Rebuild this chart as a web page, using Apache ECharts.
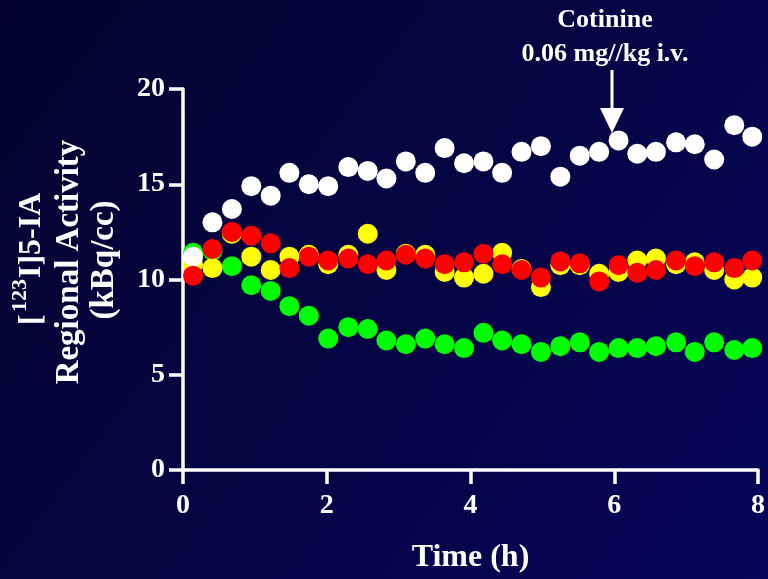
<!DOCTYPE html>
<html>
<head>
<meta charset="utf-8">
<script src="https://cdn.jsdelivr.net/npm/echarts@6/dist/echarts.min.js"></script>
<style>
html,body{margin:0;padding:0;width:768px;height:579px;overflow:hidden;}
#chart{width:768px;height:579px;}
</style>
</head>
<body>
<div id="chart"></div>
<script>
// Time points (h), shared by all regions
var times = [0.14, 0.41, 0.68, 0.95, 1.22, 1.48, 1.75, 2.02, 2.30, 2.57, 2.83, 3.10, 3.37, 3.64, 3.91, 4.18, 4.44, 4.71, 4.98, 5.25, 5.52, 5.79, 6.06, 6.32, 6.58, 6.86, 7.12, 7.39, 7.67, 7.92];
// Regional activity (kBq/cc)
var whiteVals  = [11.2, 13.0, 13.7, 14.9, 14.4, 15.6, 15.0, 14.9, 15.9, 15.7, 15.3, 16.2, 15.6, 16.9, 16.1, 16.2, 15.6, 16.7, 17.0, 15.4, 16.5, 16.7, 17.3, 16.6, 16.7, 17.2, 17.1, 16.3, 18.1, 17.5];
var greenVals  = [11.4, 11.5, 10.7, 9.7, 9.4, 8.6, 8.1, 6.9, 7.5, 7.4, 6.8, 6.6, 6.9, 6.6, 6.4, 7.2, 6.8, 6.6, 6.2, 6.5, 6.7, 6.2, 6.4, 6.4, 6.5, 6.7, 6.2, 6.7, 6.3, 6.4];
var yellowVals = [10.8, 10.6, 12.4, 11.2, 10.5, 11.2, 11.3, 10.8, 11.3, 12.4, 10.5, 11.35, 11.3, 10.4, 10.1, 10.3, 11.4, 10.55, 9.6, 10.75, 10.75, 10.3, 10.4, 11.0, 11.1, 10.8, 10.9, 10.5, 10.0, 10.1];
var redVals    = [10.2, 11.6, 12.5, 12.3, 11.9, 10.6, 11.2, 11.0, 11.1, 10.8, 11.0, 11.3, 11.1, 10.8, 10.9, 11.35, 10.8, 10.5, 10.1, 10.95, 10.85, 9.9, 10.75, 10.35, 10.5, 11.0, 10.7, 10.9, 10.6, 11.0];
var xTicks = [0, 2, 4, 6, 8];
var yTicks = [0, 5, 10, 15, 20];

function pairs(vals){ return times.map(function(t,i){ return [t, vals[i]]; }); }

var FONT = '"Liberation Serif", "Times New Roman", serif';
var chart = echarts.init(document.getElementById('chart'), null, {renderer:'canvas'});

function scat(name, vals, color, z){
  return {name:name, type:'scatter', data:pairs(vals), symbol:'circle', symbolSize:20,
    itemStyle:{color:color, opacity:1}, z:z, emphasis:{disabled:true}, silent:true};
}

var option = {
  animation:false,
  backgroundColor:{type:'linear', x:0, y:0, x2:1, y2:1,
    colorStops:[{offset:0,color:'#03032e'},{offset:1,color:'#06065a'}]},
  grid:{left:183, right:8, top:89, bottom:105, containLabel:false},
  xAxis:{type:'value', min:xTicks[0], max:xTicks[xTicks.length-1], interval:2,
    name:'Time (h)', nameLocation:'middle', nameGap:72,
    nameTextStyle:{color:'#fff', fontFamily:FONT, fontWeight:'bold', fontSize:32},
    axisLine:{show:true, lineStyle:{color:'#fff', width:3.5}},
    axisTick:{show:true, length:14, lineStyle:{color:'#fff', width:3.5}},
    axisLabel:{color:'#fff', fontFamily:FONT, fontWeight:'bold', fontSize:28, margin:22},
    splitLine:{show:false}},
  yAxis:{type:'value', min:yTicks[0], max:yTicks[yTicks.length-1], interval:5,
    axisLine:{show:true, lineStyle:{color:'#fff', width:3.5}},
    axisTick:{show:true, length:14, lineStyle:{color:'#fff', width:3.5}},
    axisLabel:{color:'#fff', fontFamily:FONT, fontWeight:'bold', fontSize:28, margin:18},
    splitLine:{show:false}},
  series:[
    scat('green', greenVals, '#00ff00', 2),
    scat('yellow', yellowVals, '#ffff00', 3),
    scat('white', whiteVals, '#ffffff', 4),
    scat('red', redVals, '#ff0000', 5)
  ],
  graphic:[
    {type:'text', x:605, y:20, style:{text:'Cotinine', fill:'#fff', font:'bold 26px '+FONT, align:'center', verticalAlign:'middle'}},
    {type:'text', x:605, y:54, style:{text:'0.06 mg//kg i.v.', fill:'#fff', font:'bold 26px '+FONT, align:'center', verticalAlign:'middle'}},
    {type:'line', shape:{x1:612, y1:70, x2:612, y2:112}, style:{stroke:'#fff', lineWidth:3}},
    {type:'polygon', shape:{points:[[600,108],[624,108],[612,133]]}, style:{fill:'#fff'}},
    {type:'text', x:32, y:325, rotation:Math.PI/2, style:{text:'[', fill:'#fff', font:'bold 32px '+FONT, align:'left', verticalAlign:'middle'}},
    {type:'text', x:20, y:312, rotation:Math.PI/2, style:{text:'123', fill:'#fff', font:'bold 22px '+FONT, align:'left', verticalAlign:'middle'}},
    {type:'text', x:32, y:278, rotation:Math.PI/2, style:{text:'I]5-IA', fill:'#fff', font:'bold 32px '+FONT, align:'left', verticalAlign:'middle'}},
    {type:'text', x:69, y:262, rotation:Math.PI/2, style:{text:'Regional Activity', fill:'#fff', font:'bold 33px '+FONT, align:'center', verticalAlign:'middle'}},
    {type:'text', x:104, y:260, rotation:Math.PI/2, style:{text:'(kBq/cc)', fill:'#fff', font:'bold 33px '+FONT, align:'center', verticalAlign:'middle'}}
  ]
};
chart.setOption(option);
</script>
</body>
</html>
